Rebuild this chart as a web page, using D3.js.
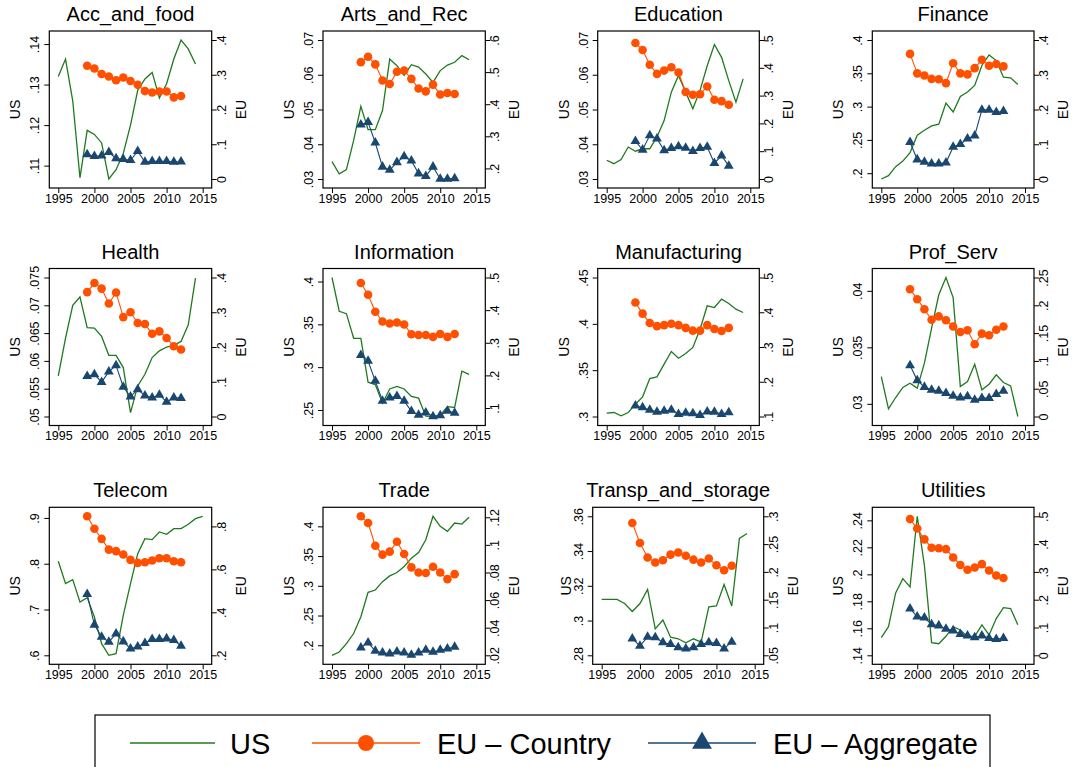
<!DOCTYPE html>
<html>
<head>
<meta charset="utf-8">
<script src="https://cdn.jsdelivr.net/npm/d3@7"></script>
<style>
  body { margin: 0; background: #fff; }
  svg { display: block; font-family: "Liberation Sans", Arial, sans-serif; }
</style>
</head>
<body>
<script>
// ---- data ----
const sectors = ["Acc_and_food", "Arts_and_Rec", "Education", "Finance",
  "Health", "Information", "Manufacturing", "Prof_Serv",
  "Telecom", "Trade", "Transp_and_storage", "Utilities"];

const usYears = [1995, 1996, 1997, 1998, 1999, 2000, 2001, 2002, 2003, 2004,
  2005, 2006, 2007, 2008, 2009, 2010, 2011, 2012, 2013, 2014, 2015];
const euYears = [1999, 2000, 2001, 2002, 2003, 2004, 2005, 2006, 2007, 2008,
  2009, 2010, 2011, 2012];
const xTicks = [1995, 2000, 2005, 2010, 2015];

// US share (left axis)
const usShare = [
  [.132, .1363, .126, .107, .1187, .1177, .1156, .1067, .109, .113, .12, .1286, .1314, .133, .1267, .1302, .1363, .141, .1388, .1351],
  [.035, .0315, .0327, .0411, .0509, .0442, .0442, .0497, .0645, .0626, .0598, .0629, .0622, .0602, .0578, .0612, .0628, .0636, .0655, .0643],
  [.0354, .0344, .0356, .0392, .038, .0387, .0387, .0421, .0468, .055, .0598, .055, .0502, .0555, .0626, .0687, .065, .0583, .0521, .0588],
  [.1913, .1963, .2098, .2182, .2307, .2571, .2646, .271, .2735, .3054, .292, .3153, .3218, .3318, .3617, .3776, .3691, .3442, .3432, .3333],
  [.0573, .0641, .07, .0715, .066, .0659, .0644, .061, .061, .0588, .0507, .0555, .0576, .0606, .0618, .0625, .0628, .0635, .0665, .0749],
  [.4047, .3653, .3625, .3337, .3337, .2824, .2797, .2579, .2745, .2776, .2745, .2658, .2638, .2428, .2424, .244, .2539, .253, .2954, .2915],
  [.3036, .3043, .3007, .3043, .3133, .3212, .341, .3428, .3565, .3701, .3629, .368, .3745, .3942, .4194, .4176, .4266, .422, .4158, .4122],
  [.0324, .02956, .03056, .03145, .03183, .03139, .0336, .0367, .03965, .04118, .0394, .03153, .03198, .03351, .03124, .03174, .03257, .03189, .03159, .02888],
  [.8053, .7565, .7652, .7165, .726, .6837, .6255, .6, .6036, .6873, .7565, .8221, .8548, .8527, .8694, .8643, .8767, .8767, .8862, .8985, .9036],
  [.1831, .1887, .2028, .2197, .2479, .289, .2929, .307, .3166, .3223, .3324, .3465, .356, .3775, .4169, .4, .3915, .4056, .4039, .4152],
  [.3122, .3122, .3122, .3098, .3052, .3098, .3179, .2952, .3003, .2904, .2895, .2872, .2895, .2876, .3079, .3084, .3208, .3084, .3473, .3501],
  [.1531, .1612, .1862, .1968, .1906, .243, .2067, .1494, .1486, .1541, .1612, .1588, .1538, .1541, .1625, .1551, .1672, .1753, .1746, .1627]
];

// EU - Country (right axis)
const euCountry = [
  [.326, .318, .302, .295, .284, .292, .282, .271, .253, .249, .252, .252, .235, .239],
  [.531, .548, .524, .474, .463, .501, .505, .479, .449, .44, .461, .43, .435, .432],
  [.489, .464, .411, .378, .39, .402, .383, .313, .303, .305, .333, .285, .28, .267],
  [.36, .304, .298, .288, .287, .276, .333, .304, .301, .319, .343, .326, .331, .324],
  [.358, .384, .368, .325, .357, .286, .3, .269, .266, .238, .245, .226, .202, .193],
  [.483, .447, .395, .365, .359, .362, .356, .326, .324, .324, .318, .327, .318, .327],
  [.428, .396, .369, .36, .363, .367, .363, .355, .347, .347, .363, .352, .346, .355],
  [.229, .211, .193, .174, .18, .173, .162, .152, .155, .13, .149, .146, .156, .162],
  [.847, .789, .742, .692, .685, .669, .644, .63, .633, .641, .652, .652, .638, .633],
  [.1207, .1159, .0994, .0929, .0951, .1023, .0934, .0837, .08, .0796, .0842, .08, .0752, .0788],
  [.288, .252, .226, .217, .221, .231, .235, .229, .222, .217, .224, .212, .203, .211],
  [.49, .456, .417, .387, .385, .382, .352, .325, .308, .316, .328, .305, .287, .278]
];

// EU - Aggregate (right axis)
const euAggregate = [
  [.0706, .066, .067, .077, .059, .057, .054, .08, .049, .051, .051, .051, .049, .05],
  [.336, .344, .28, .205, .195, .219, .237, .224, .184, .176, .205, .167, .167, .169],
  [.136, .105, .157, .145, .103, .111, .117, .112, .1, .111, .115, .057, .084, .047],
  [.106, .056, .049, .044, .044, .047, .092, .1, .116, .125, .199, .199, .192, .195],
  [.116, .121, .099, .129, .147, .085, .057, .078, .06, .054, .062, .042, .054, .053],
  [.262, .244, .183, .122, .132, .136, .122, .09, .079, .086, .074, .077, .091, .085],
  [.131, .126, .119, .113, .116, .119, .107, .11, .109, .104, .114, .113, .107, .112],
  [.092, .065, .053, .048, .046, .042, .037, .034, .036, .03, .033, .033, .04, .046],
  [.485, .342, .286, .262, .301, .264, .231, .24, .256, .275, .275, .278, .27, .244],
  [.0256, .0292, .0231, .0219, .0212, .0227, .0219, .0202, .0219, .0239, .0224, .0239, .0248, .0261],
  [.08, .067, .083, .082, .073, .07, .064, .062, .064, .07, .073, .072, .062, .074],
  [.168, .139, .135, .111, .107, .095, .089, .076, .071, .064, .071, .062, .058, .062]
];

const usTicks = [
  [.11, .12, .13, .14],
  [.03, .04, .05, .06, .07],
  [.03, .04, .05, .06, .07],
  [.2, .25, .3, .35, .4],
  [.05, .055, .06, .065, .07, .075],
  [.25, .3, .35, .4],
  [.3, .35, .4, .45],
  [.03, .035, .04],
  [.6, .7, .8, .9],
  [.2, .25, .3, .35, .4],
  [.28, .3, .32, .34, .36],
  [.14, .16, .18, .2, .22, .24]
];
const euTicks = [
  [0, .1, .2, .3, .4],
  [.2, .3, .4, .5, .6],
  [0, .1, .2, .3, .4, .5],
  [0, .1, .2, .3, .4],
  [0, .1, .2, .3, .4],
  [.1, .2, .3, .4, .5],
  [.1, .2, .3, .4, .5],
  [0, .05, .1, .15, .2, .25],
  [.2, .4, .6, .8],
  [.02, .04, .06, .08, .1, .12],
  [.05, .1, .15, .2, .25, .3],
  [0, .1, .2, .3, .4, .5]
];

const legendLabels = ["US", "EU \u2013 Country", "EU \u2013 Aggregate"];

// ---- layout ----
const width = 1072, height = 767;
const green = "#1f7a1f", orange = "#ff5000", navy = "#1a476f";
// frame [left, right, top] for each panel
const frames = [
  [49.3, 211.7, 31], [323, 485.3, 31], [597.7, 759.3, 31], [872.3, 1034, 31],
  [49.3, 211.7, 268.5], [323, 485.3, 268.5], [597.7, 759.3, 268.5], [872.3, 1034, 268.5],
  [49.3, 211.7, 507.3], [323, 485.3, 507.3], [592.7, 763.7, 507.3], [872.3, 1034, 507.3]
];
const frameH = 157, pad = 9;

const svg = d3.select("body").append("svg")
  .attr("width", width).attr("height", height);

const fmt = d => d === 0 ? "0" : String(d).replace(/^0\./, ".");

sectors.forEach((name, i) => {
  const [x0, x1, y0] = frames[i];
  const y1 = y0 + frameH;
  const g = svg.append("g");

  const xScale = d3.scaleLinear().domain([1995, 2015]).range([x0 + pad, x1 - pad]);
  const yUS = d3.scaleLinear()
    .domain(d3.extent(usShare[i].concat(usTicks[i])))
    .range([y1 - pad, y0 + pad]);
  const yEU = d3.scaleLinear()
    .domain(d3.extent(euCountry[i].concat(euAggregate[i], euTicks[i])))
    .range([y1 - pad, y0 + pad]);

  // title
  g.append("text").attr("x", (x0 + x1) / 2).attr("y", y0 - 10)
    .attr("text-anchor", "middle").attr("font-size", 20).attr("fill", "#000")
    .text(name);

  // axes
  const left = g.append("g").attr("transform", `translate(${x0},0)`)
    .call(d3.axisLeft(yUS).tickValues(usTicks[i]).tickFormat(fmt).tickSize(5).tickSizeOuter(0));
  left.selectAll("text").attr("x", null).attr("dy", null)
    .attr("transform", "translate(-10,0) rotate(-90)")
    .attr("text-anchor", "middle");

  const right = g.append("g").attr("transform", `translate(${x1},0)`)
    .call(d3.axisRight(yEU).tickValues(euTicks[i]).tickFormat(fmt).tickSize(5).tickSizeOuter(0));
  right.selectAll("text").attr("x", null).attr("dy", null)
    .attr("transform", "translate(14,0) rotate(-90)")
    .attr("text-anchor", "middle");

  const bottom = g.append("g").attr("transform", `translate(0,${y1})`)
    .call(d3.axisBottom(xScale).tickValues(xTicks).tickFormat(d3.format("d")).tickSize(5).tickSizeOuter(0));
  bottom.selectAll("text").attr("y", 6);

  [left, right, bottom].forEach(a => {
    a.select(".domain").remove();
    a.selectAll("text").attr("font-size", 12.5).attr("fill", "#000")
      .attr("font-family", "Liberation Sans, Arial, sans-serif");
    a.selectAll("line").attr("stroke", "#000");
  });

  g.append("rect").attr("x", x0).attr("y", y0).attr("width", x1 - x0).attr("height", frameH)
    .attr("fill", "none").attr("stroke", "#000").attr("stroke-width", 1.2);

  // axis titles
  g.append("text").attr("transform", `translate(${i === 10 ? x0 - 22 : x0 - 29},${(y0 + y1) / 2}) rotate(-90)`)
    .attr("text-anchor", "middle").attr("font-size", 14).text("US");
  g.append("text").attr("transform", `translate(${x1 + 34},${(y0 + y1) / 2}) rotate(-90)`)
    .attr("text-anchor", "middle").attr("font-size", 14).text("EU");

  // US line
  g.append("path").datum(usShare[i])
    .attr("fill", "none").attr("stroke", green).attr("stroke-width", 1.3)
    .attr("d", d3.line().x((d, k) => xScale(usYears[k])).y(d => yUS(d)));

  // EU country
  g.append("path").datum(euCountry[i])
    .attr("fill", "none").attr("stroke", orange).attr("stroke-width", 1.1)
    .attr("d", d3.line().x((d, k) => xScale(euYears[k])).y(d => yEU(d)));
  g.selectAll(".dot").data(euCountry[i]).join("circle")
    .attr("cx", (d, k) => xScale(euYears[k])).attr("cy", d => yEU(d))
    .attr("r", 4.3).attr("fill", orange);

  // EU aggregate
  g.append("path").datum(euAggregate[i])
    .attr("fill", "none").attr("stroke", navy).attr("stroke-width", 1.1)
    .attr("d", d3.line().x((d, k) => xScale(euYears[k])).y(d => yEU(d)));
  g.selectAll(".tri").data(euAggregate[i]).join("path")
    .attr("transform", (d, k) => `translate(${xScale(euYears[k])},${yEU(d)})`)
    .attr("d", d3.symbol(d3.symbolTriangle, 42)).attr("fill", navy);
});

// ---- legend ----
const lg = svg.append("g");
lg.append("rect").attr("x", 95).attr("y", 715).attr("width", 895).attr("height", 70)
  .attr("fill", "#fff").attr("stroke", "#000").attr("stroke-width", 1.2);
// key line [start, end] and text x for each entry
const keyLine = [[130, 215], [312, 420], [648, 756]];
const keyText = [230, 437, 773];
const keyColor = [green, orange, navy];
legendLabels.forEach((lab, k) => {
  const [ka, kb] = keyLine[k];
  const mid = (ka + kb) / 2;
  lg.append("line").attr("x1", ka).attr("x2", kb).attr("y1", 743).attr("y2", 743)
    .attr("stroke", keyColor[k]).attr("stroke-width", k === 0 ? 1.5 : 1.3);
  if (k === 1) lg.append("circle").attr("cx", mid).attr("cy", 743).attr("r", 8).attr("fill", orange);
  if (k === 2) lg.append("path").attr("transform", `translate(${mid},743)`)
    .attr("d", d3.symbol(d3.symbolTriangle, 170)).attr("fill", navy);
  lg.append("text").attr("x", keyText[k]).attr("y", 754).attr("font-size", 29).attr("fill", "#000").text(lab);
});
</script>
</body>
</html>
